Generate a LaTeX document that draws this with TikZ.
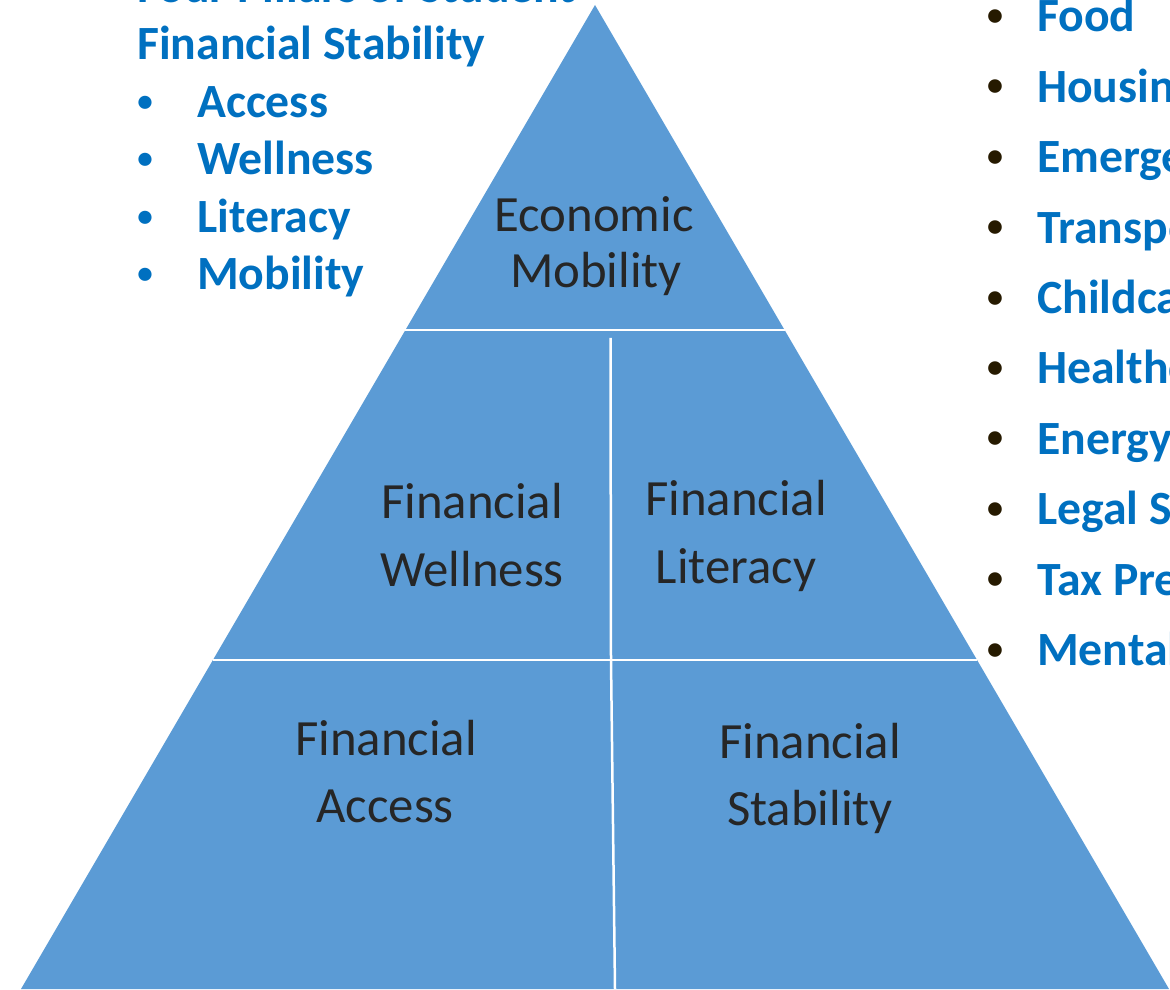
\documentclass[tikz,border=0pt]{standalone}
\usepackage{fontspec}
\newfontfamily\calfont{Carlito}
\usetikzlibrary{calc}
\definecolor{pyr}{HTML}{5B9BD5}
\definecolor{txtblue}{HTML}{0070C0}
\definecolor{bul}{HTML}{261A00}
\definecolor{lab}{HTML}{262626}
\tikzset{
  listtxt/.style={anchor=base west, inner sep=0pt, text=txtblue, font=\calfont\bfseries\fontsize{47.7}{47.7}\selectfont},
  bulblue/.style={anchor=base, inner sep=0pt, text=txtblue, font=\calfont\bfseries\fontsize{31}{31}\selectfont},
  buldark/.style={anchor=base, inner sep=0pt, text=bul, font=\calfont\bfseries\fontsize{32}{32}\selectfont},
  lbl/.style={anchor=base, inner sep=0pt, text=lab, font=\calfont\fontsize{50.8}{50.8}\selectfont},
  divider/.style={draw=white, line width=2.5pt, line cap=butt}
}
\begin{document}
\begin{tikzpicture}[x=1pt,y=1pt]
\useasboundingbox (0,0) rectangle (1170,989);
\clip (0,0) rectangle (1170,989);
% pyramid
\coordinate (apex) at (595,984);
\coordinate (bl) at (21,0);
\coordinate (br) at (1169,0);
\fill[pyr] (apex) -- (bl) -- (br) -- cycle;
\coordinate (l1) at ($(apex)!0.3303!(bl)$);
\coordinate (r1) at ($(apex)!0.3303!(br)$);
\coordinate (l2) at ($(apex)!0.6657!(bl)$);
\coordinate (r2) at ($(apex)!0.6657!(br)$);
\coordinate (v1top) at (610.5,651);
\coordinate (vx) at (611,0);
\coordinate (vmid) at (vx |- l2);
\coordinate (v2bot) at (615,0);
\draw[divider] (l1) -- (r1);
\draw[divider] (l2) -- (r2);
\draw[divider] (v1top) -- (vmid);
\draw[divider] (vmid) -- (v2bot);
% pyramid labels
\node[lbl] (em1) at (594,757) {Economic};
\node[lbl] (em2) at (596,701) {Mobility};
\node[lbl] (fw1) at (472,470) {Financial};
\node[lbl] (fw2) at (472,402) {Wellness};
\node[lbl] (fl1) at (736,473) {Financial};
\node[lbl] (fl2) at (736,405) {Literacy};
\node[lbl] (fa1) at (386,234) {Financial};
\node[lbl] (fa2) at (385,167) {Access};
\node[lbl] (fs1) at (810,231) {Financial};
\node[lbl] (fs2) at (810,164) {Stability};
% left list
\node[listtxt] (t1) at (137,986) {Four Pillars of Student};
\node[listtxt] (t2) at (137,929) {Financial Stability};
\node[bulblue] (lb1) at (145,877.5) {•};
\node[listtxt] (li1) at (197,871.5) {Access};
\node[bulblue] (lb2) at (145,820) {•};
\node[listtxt] (li2) at (197,814) {Wellness};
\node[bulblue] (lb3) at (145,762.5) {•};
\node[listtxt] (li3) at (197,756.5) {Literacy};
\node[bulblue] (lb4) at (145,705) {•};
\node[listtxt] (li4) at (197,699) {Mobility};
% right list
\foreach \i/\w in {0/Food,1/Housing,2/Emergency,3/Transportation,4/Childcare,5/Healthcare,6/Energy,7/Legal Services,8/Tax Preparation,9/Mental}{
  \node[buldark] (rb\i) at (995,{963.5-70.4*\i}) {•};
  \node[listtxt] (ri\i) at (1037,{957-70.4*\i}) {\w};
}
\end{tikzpicture}
\end{document}
